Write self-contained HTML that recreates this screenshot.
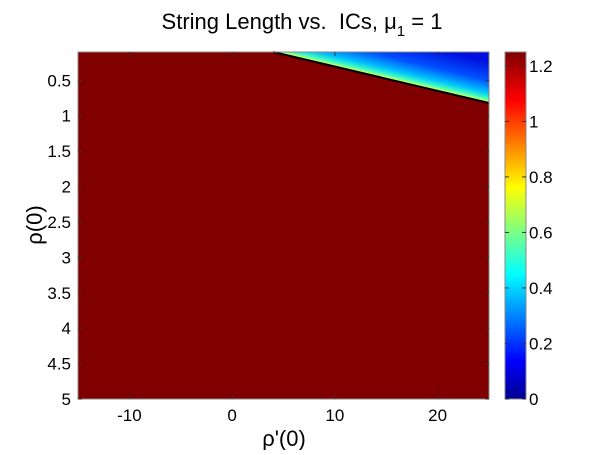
<!DOCTYPE html>
<html><head><meta charset="utf-8"><style>
body{margin:0;background:#fff;}
svg text{font-family:"Liberation Sans",sans-serif;fill:#000;}
</style></head><body>
<svg id="c" width="600" height="450" xmlns="http://www.w3.org/2000/svg">
<defs>
<linearGradient id="jet" x1="0" y1="1" x2="0" y2="0">
<stop offset="0" stop-color="#00008f"/><stop offset="0.11" stop-color="#0000ff"/>
<stop offset="0.36" stop-color="#00ffff"/><stop offset="0.61" stop-color="#ffff00"/>
<stop offset="0.86" stop-color="#ff0000"/><stop offset="1" stop-color="#800000"/>
</linearGradient>
<linearGradient id="edge" gradientUnits="userSpaceOnUse" x1="0" y1="0" x2="0" y2="0">
<stop offset="0" stop-color="#ffff40"/><stop offset="0.1" stop-color="#40ffc0"/>
<stop offset="0.25" stop-color="#00c0ff"/><stop offset="0.55" stop-color="#0050ff"/>
<stop offset="1" stop-color="#0010e0"/>
</linearGradient>
</defs>
<text x="302" y="29" font-size="22" text-anchor="middle">String Length vs.&#160; ICs, μ<tspan font-size="15" dy="7">1</tspan><tspan dy="-7"> = 1</tspan></text>
<g id="plot"></g>
<text x="284" y="446" font-size="22" text-anchor="middle">ρ'(0)</text>
<text transform="translate(42,225) rotate(-90)" font-size="22" text-anchor="middle">ρ(0)</text>
</svg>
<script>
const xDomain=[-15,25];
const yDomain=[0.1,5];
const xTicks=[-10,0,10,20];
const yTicks=[0.5,1,1.5,2,2.5,3,3.5,4,4.5,5];
const cTicks=[0,0.2,0.4,0.6,0.8,1,1.2];
const cDomain=[0,1.25];
const boundaryX=[4,25];
const boundaryY=[0.1,0.82];
const L=78,R=489,T=52,B=399,CL=505,CR=526;
const sx=v=>L+(v-xDomain[0])/(xDomain[1]-xDomain[0])*(R-L);
const sy=v=>T+(v-yDomain[0])/(yDomain[1]-yDomain[0])*(B-T);
const sc=v=>B-(v-cDomain[0])/(cDomain[1]-cDomain[0])*(B-T);
const NS='http://www.w3.org/2000/svg';
const g=document.getElementById('plot');
function mk(t,a,p){const e=document.createElementNS(NS,t);for(const k in a)e.setAttribute(k,a[k]);(p||g).appendChild(e);return e;}
let e=mk('rect',{x:L,y:T,width:R-L,height:B-T,fill:'#800000'});


const x0=sx(boundaryX[0]),y0=sy(boundaryY[0]),x1=sx(boundaryX[1]),y1=sy(boundaryY[1]);
const dx=x1-x0,dy=y1-y0,len=Math.hypot(dx,dy),nx=dy/len,ny=-dx/len;
const gr=document.getElementById('edge');
gr.setAttribute('x1',x1);gr.setAttribute('y1',y1);
gr.setAttribute('x2',x1+nx*40);gr.setAttribute('y2',y1+ny*40);
e=mk('polygon',{points:`${x0},${T} ${R},${T} ${x1},${y1}`,fill:'url(#edge)'});


e=mk('line',{x1:x0,y1:y0,x2:x1,y2:y1,stroke:'#000','stroke-width':2});


e=mk('rect',{x:L,y:T,width:R-L,height:B-T,fill:'none',stroke:'#888','stroke-width':1});


xTicks.forEach(v=>{const x=sx(v);
mk('line',{x1:x,y1:B,x2:x,y2:B-4,stroke:'#333'});mk('line',{x1:x,y1:T,x2:x,y2:T+4,stroke:'#333'});
const t=mk('text',{x:x,y:B+22,'font-size':17,'text-anchor':'middle'});t.textContent=v;

});
yTicks.forEach(v=>{const y=sy(v);
mk('line',{x1:L,y1:y,x2:L+4,y2:y,stroke:'#333'});mk('line',{x1:R,y1:y,x2:R-4,y2:y,stroke:'#333'});
const t=mk('text',{x:L-7,y:y+6,'font-size':17,'text-anchor':'end'});t.textContent=v;

});
e=mk('rect',{x:CL,y:T,width:CR-CL,height:B-T,fill:'url(#jet)',stroke:'#888'});


cTicks.forEach(v=>{const y=sc(v);
mk('line',{x1:CR,y1:y,x2:CR-4,y2:y,stroke:'#333'});mk('line',{x1:CL,y1:y,x2:CL+4,y2:y,stroke:'#333'});
const t=mk('text',{x:CR+3,y:y+6,'font-size':17});t.textContent=v;

});
</script>
</body></html>
